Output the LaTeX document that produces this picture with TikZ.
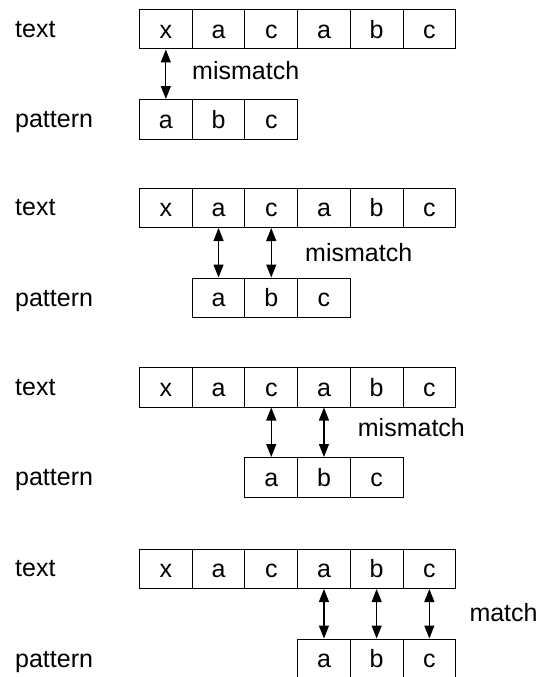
\documentclass[tikz,border=0pt]{standalone}
\usepackage{fontspec}
\setmainfont{Liberation Sans}
\usetikzlibrary{arrows.meta}
\begin{document}
\begin{tikzpicture}[x=1pt,y=-1pt,
  font=\fontsize{25}{30}\selectfont,
  cell/.style={draw, line width=1pt, minimum width=52.7pt, minimum height=39.5pt,
    inner sep=0pt, text height=18pt, text depth=0pt, anchor=north west},
  lbl/.style={anchor=base west, inner sep=0pt},
  link/.style={{Triangle[length=13pt,width=10pt]}-{Triangle[length=13pt,width=10pt]}, line width=1.1pt}]
\useasboundingbox (0,0) rectangle (538,677);
\foreach \r/\T in {1/9,2/187.5,3/367,4/548.5}{
  \node[lbl] (lt\r) at (15,{\T+28.3}) {text};
  \node[lbl] (lp\r) at (15,{\T+118.5}) {pattern};
  \foreach \i/\c in {1/x,2/a,3/c,4/a,5/b,6/c}{
    \node[cell] (t\r-\i) at ({139+(\i-1)*52.7},\T) {\c};
  }
  \foreach \j/\c in {1/a,2/b,3/c}{
    \node[cell] (p\r-\j) at ({139+(\r+\j-2)*52.7},{\T+90}) {\c};
  }
}
% row 1
\draw[link] (t1-1.south) -- (p1-1.north);
\node[lbl] (m1) at (192,79.3) {mismatch};
% row 2
\draw[link] (t2-2.south) -- (p2-1.north);
\draw[link] (t2-3.south) -- (p2-2.north);
\node[lbl] (m2) at (305,261.7) {mismatch};
% row 3
\draw[link] (t3-3.south) -- (p3-1.north);
\draw[link] (t3-4.south) -- (p3-2.north);
\node[lbl] (m3) at (357.7,436.7) {mismatch};
% row 4
\draw[link] (t4-4.south) -- (p4-1.north);
\draw[link] (t4-5.south) -- (p4-2.north);
\draw[link] (t4-6.south) -- (p4-3.north);
\node[lbl] (m4) at (469.3,621.7) {match};
\end{tikzpicture}
\end{document}
